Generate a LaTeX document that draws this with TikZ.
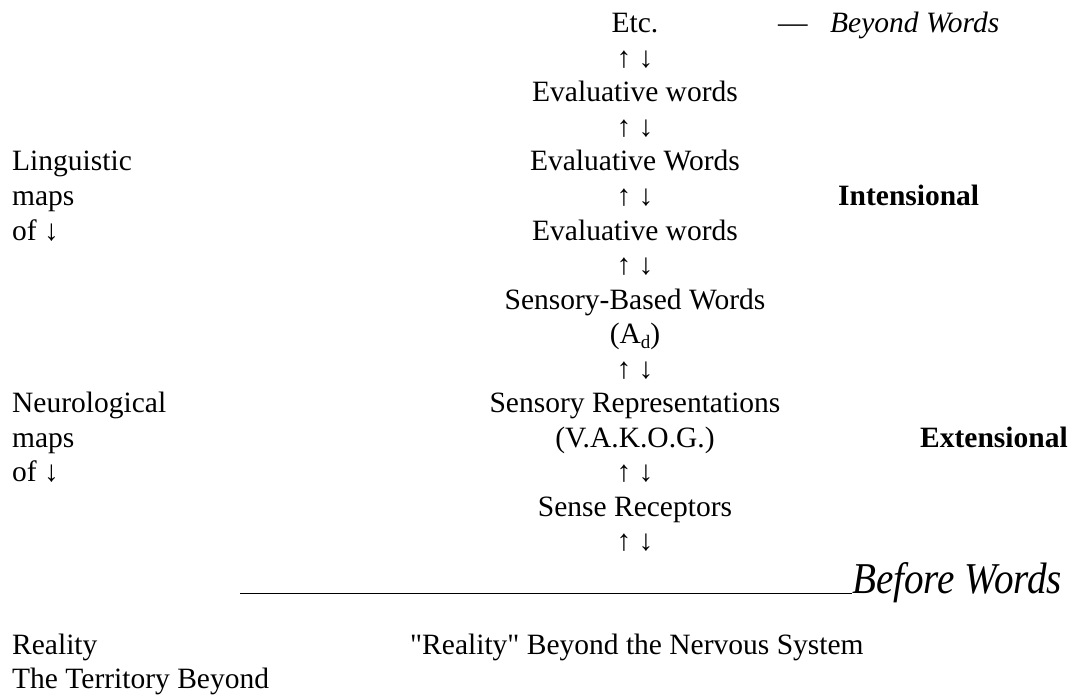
\documentclass[tikz,border=0pt]{standalone}
\usepackage{fontspec}
\setmainfont{Liberation Serif}
\newfontfamily\rawserif{Liberation Serif}
\begin{document}
\begin{tikzpicture}[x=1pt,y=-1pt,
  every node/.style={inner sep=0pt, font=\fontsize{29.5}{34.5}\selectfont},
  mid/.style={anchor=base},
  lft/.style={anchor=base west},
  arr/.style={anchor=base},
  rule/.style={line width=1pt}]
\useasboundingbox (0,0) rectangle (1082,698);
% central column
\node[mid] (etc) at (635,33) {Etc.};
\node[arr] (a1) at (635,67.5) {↑ ↓};
\node[mid] (ev1) at (635,102) {Evaluative words};
\node[arr] (a2) at (635,136.5) {↑ ↓};
\node[mid] (ev2) at (635,171) {Evaluative Words};
\node[arr] (a3) at (635,205.5) {↑ ↓};
\node[mid] (ev3) at (635,240) {Evaluative words};
\node[arr] (a4) at (635,274.5) {↑ ↓};
\node[mid] (sbw) at (635,309) {Sensory-Based Words};
\node[mid] (ad) at (635,343.5) {(A\raisebox{-5pt}{\fontsize{19}{20}\selectfont d})};
\node[arr] (a5) at (635,378) {↑ ↓};
\node[mid] (sr) at (635,412.5) {Sensory Representations};
\node[mid] (vakog) at (635,447) {(V.A.K.O.G.)};
\node[arr] (a6) at (635,481.5) {↑ ↓};
\node[mid] (srec) at (635,516) {Sense Receptors};
\node[arr] (a7) at (635,550.5) {↑ ↓};
% top right
\node[lft] (dash) at (778,33) {—};
\node[lft] (beyond) at (830,33) {\itshape Beyond Words};
% left labels
\node[lft] (ling) at (12,171) {Linguistic};
\node[lft] (lmaps) at (12,205.5) {maps};
\node[lft] (lof) at (12,240) {of ↓};
\node[lft] (neuro) at (12,412.5) {Neurological};
\node[lft] (nmaps) at (12,447) {maps};
\node[lft] (nof) at (12,481.5) {of ↓};
% right labels
\node[lft] (int) at (838,205.5) {\bfseries Intensional};
\node[lft] (ext) at (920,447) {\bfseries Extensional};
% rule and before words
\node[lft, font=\fontsize{44}{46}\selectfont] (before) at (852,593) {\scalebox{0.89}[1]{\itshape Before Words}};
\coordinate (ruleL) at (240,593);
\draw[rule] (ruleL) -- (before.base west);
% bottom
\node[lft] (real) at (12,654) {Reality};
\node[lft] (terr) at (12,688) {The Territory Beyond};
\node[lft] (rbeyond) at (410,654) {\rawserif "Reality" Beyond the Nervous System};
\end{tikzpicture}
\end{document}
